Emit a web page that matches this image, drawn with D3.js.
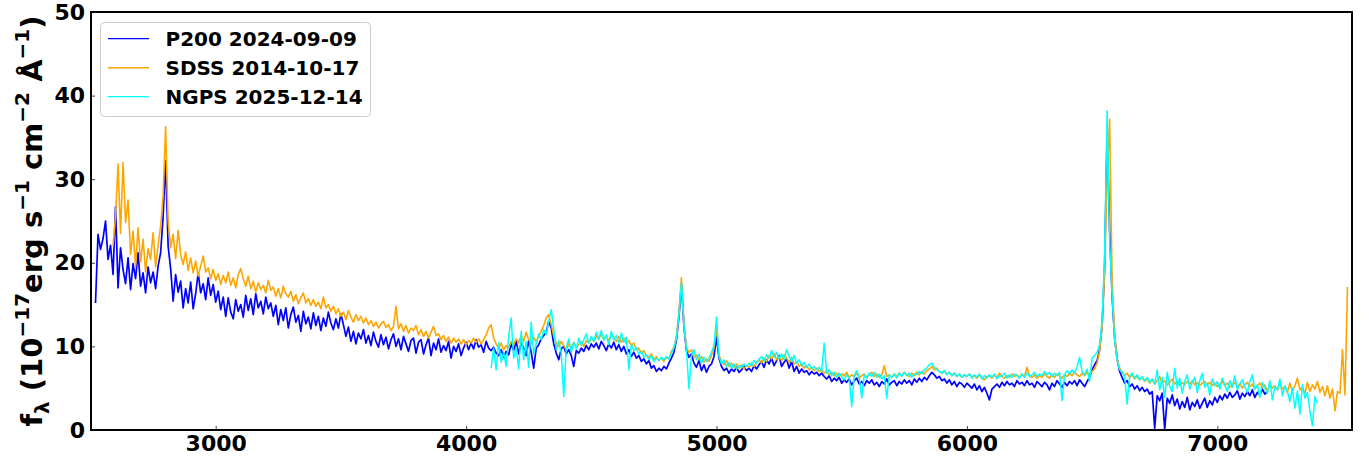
<!DOCTYPE html>
<html><head><meta charset="utf-8">
<script src="https://cdn.jsdelivr.net/npm/d3@7"></script>
<style>
body{margin:0;background:#fff;}
text{font-family:"DejaVu Sans",sans-serif;font-weight:bold;fill:#000;}
</style>
</head><body>
<svg id="chart" width="1369" height="462"></svg>
<script>
// ---- axis settings ----
const xDomain = [2502, 7538];
const yDomain = [0, 50];
const xTicks = [3000, 4000, 5000, 6000, 7000];
const yTicks = [0, 10, 20, 30, 40, 50];

// ---- series: wavelength grid (start, step in Å) + flux (1e-17 erg/s/cm2/Å) ----
const p200Name = "P200 2024-09-09";
const p200Start = 2520, p200Step = 10;
const p200Flux = [
15.2,23.4,21.6,22.9,25.0,20.4,22.1,18.6,26.7,17.0,
21.8,19.2,17.5,20.6,16.8,19.9,18.1,21.2,17.2,18.8,
16.4,19.5,17.6,18.9,16.9,19.6,21.2,25.5,32.2,22.0,
19.3,15.4,18.6,16.5,17.8,14.6,16.9,15.2,17.7,14.5,
16.3,18.8,16.4,17.5,15.6,18.2,16.1,17.4,15.3,16.6,
14.4,15.9,13.6,15.8,14.1,13.3,15.6,14.2,15.0,13.5,
16.1,14.3,15.7,13.8,16.3,14.6,15.4,13.9,15.9,14.5,
15.2,13.6,14.9,12.6,14.4,13.1,14.6,12.2,13.8,14.7,
12.9,13.7,11.8,14.2,12.7,13.5,12.1,14.0,12.5,13.6,
11.9,13.4,12.4,14.1,12.8,12.0,13.3,12.2,13.9,12.6,
11.2,12.3,10.6,11.8,10.3,11.6,10.9,12.0,10.4,11.3,
10.1,11.7,10.6,9.9,11.4,10.2,11.1,9.7,10.8,11.5,
10.0,10.9,9.6,11.2,10.3,9.4,10.7,11.0,9.2,10.5,
10.8,9.1,10.2,11.0,8.9,10.4,9.6,10.9,9.3,10.1,
9.5,10.6,8.6,10.0,9.4,10.3,8.9,9.8,10.5,9.6,
10.4,9.7,10.8,9.9,10.2,9.3,10.6,9.8,9.5,9.9,
9.2,8.9,9.6,8.7,9.4,9.0,10.3,9.5,10.6,9.1,
10.4,9.8,8.9,10.7,9.3,7.4,9.8,10.2,10.9,11.3,
11.7,13.0,12.2,10.3,9.2,8.4,9.7,10.0,9.1,9.6,
8.9,7.6,9.5,9.2,9.8,9.4,10.1,9.6,10.3,9.9,
10.4,9.7,10.6,10.1,9.5,10.3,9.8,10.5,9.6,10.2,
9.4,10.0,9.1,9.6,8.8,9.3,8.6,8.9,8.2,8.5,
7.9,8.3,7.4,7.7,7.0,7.4,7.1,7.6,7.3,8.0,
8.6,9.3,10.8,13.5,17.4,12.4,9.5,8.7,9.1,8.0,
7.5,8.3,7.1,7.8,6.9,7.6,7.9,8.8,11.1,8.6,
7.6,7.1,7.4,6.8,7.3,7.0,7.5,6.9,7.2,7.6,
7.1,7.4,7.0,7.7,7.3,7.8,8.2,7.5,8.4,7.9,
8.6,7.7,8.3,8.9,7.6,8.1,8.5,7.4,8.2,7.0,
7.6,6.8,7.3,6.9,7.1,6.6,7.0,6.7,6.9,6.5,
6.8,6.4,6.1,6.5,5.8,6.2,5.9,6.3,5.6,6.0,
5.7,6.1,5.4,5.9,6.2,5.5,5.8,5.3,5.9,5.6,
6.0,5.4,5.7,5.2,5.8,5.5,6.1,5.4,5.7,5.9,
5.3,5.8,5.5,6.0,5.6,5.9,5.4,6.1,5.7,6.2,
5.8,6.3,6.0,6.5,6.9,6.6,6.2,6.4,5.9,6.1,
5.6,6.0,5.4,5.8,5.2,5.7,5.5,5.1,5.6,5.3,
5.0,5.5,4.8,5.3,4.6,5.1,4.4,3.6,4.9,5.2,
5.5,5.1,5.7,5.3,5.8,5.4,5.6,5.2,5.9,5.5,
5.7,5.3,5.9,5.4,5.6,5.1,5.8,5.5,5.2,5.7,
5.4,4.8,5.6,5.2,5.9,5.5,5.1,5.7,5.3,5.8,
5.5,5.9,5.3,6.0,5.6,5.2,5.8,6.3,7.2,7.8,
8.3,9.6,12.5,19.5,35.5,24.0,16.0,11.0,8.5,7.0,
6.3,5.6,5.9,5.2,5.5,4.9,5.3,4.7,5.1,4.6,
4.9,4.3,4.6,0.2,4.1,3.5,4.4,0.0,3.8,3.2,
4.2,2.9,3.7,2.5,3.4,2.7,3.9,2.4,3.3,2.8,
3.6,2.6,3.2,3.8,2.7,3.5,3.0,3.9,3.3,4.1,
3.6,4.3,3.8,4.5,3.9,4.2,4.7,3.7,4.4,4.0,
4.6,4.1,4.8,3.9,4.5,4.2,4.9,4.3,4.6
];

const sdssName = "SDSS 2014-10-17";
const sdssStart = 2590, sdssStep = 10;
const sdssFlux = [
22.0,25.5,31.8,23.5,32.0,24.8,27.5,21.0,23.8,19.6,
24.2,20.1,22.8,18.9,21.7,20.4,23.6,19.5,22.1,24.4,
28.0,36.3,25.0,21.8,23.4,20.5,23.9,21.0,19.8,21.3,
19.1,20.6,18.8,20.2,18.4,19.6,20.8,18.9,19.4,18.1,
19.2,17.9,18.7,17.4,18.5,17.6,18.9,17.3,18.2,17.0,
18.6,19.3,18.1,17.2,18.4,16.9,17.8,16.5,17.6,16.8,
17.3,16.4,17.9,16.7,17.1,16.0,16.9,15.8,17.2,16.3,
15.9,16.6,15.4,16.2,15.1,15.8,16.4,15.2,15.7,14.9,
15.6,14.8,15.3,14.5,15.9,14.6,15.0,14.2,14.8,13.9,
14.5,13.6,14.1,13.2,14.3,13.5,12.9,13.8,13.1,13.6,
12.8,13.4,12.6,13.1,12.4,12.9,12.2,12.7,13.0,12.3,
12.6,11.9,12.4,14.8,12.1,12.7,11.8,12.5,11.6,12.2,
11.9,12.5,11.4,12.0,11.2,11.8,11.0,11.7,12.4,11.3,
11.5,10.8,11.3,10.6,11.1,10.4,11.0,10.5,10.9,10.3,
10.8,10.2,10.7,10.4,11.0,10.5,10.9,10.3,10.8,11.4,
12.2,12.6,11.0,10.3,9.8,10.4,9.6,10.1,9.8,10.6,
10.2,10.9,10.4,11.3,10.6,11.7,10.8,10.3,11.1,10.5,
11.2,11.8,12.5,13.4,13.8,12.6,11.2,10.4,10.0,10.6,
10.1,9.6,10.3,9.8,10.5,9.9,10.2,10.6,10.0,10.7,
10.4,11.0,10.6,11.3,10.8,11.5,10.9,11.2,10.7,11.4,
11.0,10.6,11.2,10.5,11.0,10.3,10.7,10.1,10.4,9.6,
9.8,9.2,9.5,8.9,8.7,9.1,8.4,8.8,8.3,8.6,
8.2,8.7,8.5,9.4,9.9,11.2,14.0,18.2,12.8,9.9,
9.3,9.6,8.7,9.0,8.4,8.8,8.1,8.5,8.2,8.9,
9.8,12.3,9.0,8.2,7.8,8.3,7.6,8.0,7.5,7.9,
7.4,7.8,7.3,7.7,7.5,8.0,7.6,8.1,8.4,8.0,
8.6,8.2,8.9,8.5,9.1,8.4,8.8,8.3,9.0,8.6,
8.1,8.7,7.9,8.2,7.6,7.9,7.4,7.7,7.2,7.5,
7.1,7.4,7.0,7.2,6.8,7.1,6.6,6.9,6.5,6.8,
6.4,6.7,6.5,6.9,6.3,6.6,6.4,6.8,6.2,6.5,
6.7,6.3,6.6,6.9,6.4,6.7,6.3,6.6,7.7,6.4,
6.6,6.3,6.7,6.4,6.8,6.5,6.9,6.6,6.4,6.8,
6.5,6.9,6.6,7.0,6.7,7.1,7.3,7.6,7.2,7.4,
7.0,6.8,7.1,6.7,6.9,6.5,6.8,6.4,6.7,6.3,
6.6,6.4,6.7,6.3,6.5,6.2,6.6,6.3,6.0,6.4,
6.5,6.2,6.6,6.3,6.8,6.4,6.2,6.5,6.3,6.7,
6.4,6.6,6.3,6.7,6.4,7.5,6.5,6.3,6.6,6.2,
6.5,6.3,6.7,6.4,6.2,6.6,6.3,6.7,6.5,6.2,
6.6,6.4,6.8,6.5,6.9,6.6,6.4,6.8,6.5,6.9,
6.7,7.0,7.3,8.0,9.4,12.4,19.0,30.0,37.2,18.0,
11.5,8.5,7.4,6.9,6.5,6.8,6.3,6.6,6.1,6.4,
6.0,6.3,5.8,6.1,5.6,6.0,5.5,5.9,6.4,5.6,
5.9,5.4,5.7,6.1,5.5,5.8,5.3,5.7,5.4,5.8,
5.5,5.9,5.4,5.7,5.3,5.6,5.8,5.4,5.7,5.3,
5.6,5.2,5.5,5.8,5.3,5.6,5.1,5.4,5.7,5.2,
5.5,5.0,5.4,5.7,5.2,5.5,4.9,5.3,5.6,5.1,
5.4,4.6,5.5,5.0,5.3,4.8,5.6,4.9,5.2,4.5,
5.6,4.7,5.3,6.2,4.8,5.1,4.4,5.7,4.6,5.4,
4.9,5.8,4.5,5.2,4.1,5.3,3.8,4.9,2.3,4.6,
4.4,9.6,4.2,17.1
];

const ngpsName = "NGPS 2025-12-14";
const ngpsStart = 4100, ngpsStep = 10;
const ngpsFlux = [
7.4,9.8,7.2,10.5,8.1,9.3,7.6,11.2,13.4,8.6,
9.9,7.3,11.8,8.4,10.6,7.5,12.9,9.1,10.3,11.5,
10.8,12.0,11.4,13.0,14.4,12.1,9.6,10.7,9.2,4.0,
9.8,10.9,9.3,10.5,9.7,11.0,10.1,10.8,11.5,10.4,
11.2,10.6,11.7,10.9,11.9,10.7,11.4,10.2,11.8,10.8,
11.3,10.4,11.6,10.5,11.1,7.2,10.3,9.5,9.9,9.1,
9.4,8.7,9.0,8.4,8.9,8.2,8.6,8.3,8.7,8.4,
8.8,8.5,9.2,9.8,11.0,13.8,17.7,12.6,9.6,4.9,
8.9,9.6,8.4,9.1,8.0,8.7,8.2,8.6,9.3,10.1,
13.5,8.8,7.9,8.4,7.6,8.1,7.4,7.9,7.3,7.7,
7.5,7.9,7.6,8.0,7.7,8.3,8.0,8.5,8.8,8.2,
9.0,8.6,9.5,8.7,9.3,8.5,9.1,8.4,9.6,8.8,
8.2,8.9,8.0,8.4,7.7,8.1,7.5,7.9,7.3,7.6,
7.2,7.5,7.0,10.4,6.8,7.2,6.5,6.9,6.3,6.8,
6.4,6.0,6.6,6.2,2.8,6.5,7.1,6.3,3.8,6.6,
6.2,6.8,6.4,6.9,6.3,6.7,6.1,6.5,3.8,6.6,
6.3,6.7,6.2,6.8,6.4,6.9,6.5,6.8,6.3,6.7,
6.6,7.0,6.7,7.2,7.4,7.8,8.0,7.5,7.2,7.0,
6.8,7.1,6.6,6.9,6.5,6.8,6.4,6.7,6.3,6.6,
6.4,6.7,6.2,6.6,6.3,6.7,6.1,6.5,6.2,6.6,
6.3,6.7,6.1,6.5,6.4,6.8,6.2,6.6,6.3,6.7,
6.5,6.2,6.7,6.3,6.8,6.4,6.6,6.9,6.4,6.7,
6.5,7.0,6.6,6.9,6.4,6.8,6.5,6.9,3.5,6.6,
7.1,6.7,7.2,6.8,7.6,8.7,7.0,6.6,7.3,5.8,
8.6,8.9,9.3,10.2,13.0,21.0,38.2,22.5,16.0,10.8,
8.3,7.2,6.9,6.5,3.1,6.4,6.8,6.2,6.6,6.0,
6.4,5.9,6.3,5.7,6.1,5.5,7.2,4.8,6.3,3.9,
6.9,5.2,4.6,7.4,5.0,6.2,4.4,5.8,6.6,4.9,
5.7,6.3,4.5,5.9,6.8,5.1,5.6,4.2,6.1,5.3,
5.8,4.9,6.2,5.4,4.6,5.9,5.1,6.5,4.8,5.5,
6.0,5.2,4.5,5.8,6.6,4.9,5.4,3.9,5.7,5.0,
4.4,5.9,3.6,5.2,4.8,6.1,4.1,5.3,4.6,3.4,
5.0,2.6,4.7,1.9,5.4,3.8,4.5,2.2,0.5,4.0,
3.2
];

const series = [
  {name: p200Name, color: "#0000ff", start: p200Start, step: p200Step, flux: p200Flux, lw: 1.7},
  {name: sdssName, color: "#ffa500", start: sdssStart, step: sdssStep, flux: sdssFlux, lw: 1.6},
  {name: ngpsName, color: "#00ffff", start: ngpsStart, step: ngpsStep, flux: ngpsFlux, lw: 1.5}
];

// ---- layout ----
const M = {l: 91, r: 1352, t: 12, b: 430};
const svg = d3.select("#chart");
const x = d3.scaleLinear().domain(xDomain).range([M.l, M.r]);
const y = d3.scaleLinear().domain(yDomain).range([M.b, M.t]);

svg.append("defs").append("clipPath").attr("id", "clip")
  .append("rect").attr("x", M.l).attr("y", M.t).attr("width", M.r - M.l).attr("height", M.b - M.t);

const line = d3.line().x(d => x(d[0])).y(d => y(d[1]));
const gLines = svg.append("g").attr("clip-path", "url(#clip)");
series.forEach(s => {
  const pts = s.flux.map((f, i) => [s.start + i * s.step, f]);
  gLines.append("path").datum(pts)
    .attr("d", line).attr("fill", "none")
    .attr("stroke", s.color).attr("stroke-width", s.lw)
    .attr("stroke-linejoin", "round");
});

// ---- axes ----
const xAxis = d3.axisBottom(x).tickValues(xTicks).tickFormat(d3.format("d"))
  .tickSizeInner(-4).tickSizeOuter(0).tickPadding(5);
const gx = svg.append("g").attr("transform", `translate(0,${M.b})`).call(xAxis);
const yAxis = d3.axisLeft(y).tickValues(yTicks).tickFormat(d3.format("d"))
  .tickSizeInner(-4).tickSizeOuter(0).tickPadding(6);
const gy = svg.append("g").attr("transform", `translate(${M.l},0)`).call(yAxis);
[gx, gy].forEach(g => {
  g.select(".domain").remove();
  g.selectAll(".tick line").attr("stroke", "#444").attr("stroke-width", 1);
  g.selectAll(".tick text").attr("font-size", 22).attr("font-family", "DejaVu Sans")
    .attr("font-weight", "bold").attr("fill", "#000");
});

// frame
svg.append("rect").attr("x", M.l).attr("y", M.t).attr("width", M.r - M.l).attr("height", M.b - M.t)
  .attr("fill", "none").attr("stroke", "#000").attr("stroke-width", 2);

// ---- y label ----
const yl = svg.append("text").attr("transform", `translate(42,${(M.t + M.b) / 2}) rotate(-90)`)
  .attr("text-anchor", "middle").attr("font-size", 29);
const parts = [
  ["f", 0], ["λ", -1], [" (10", 0], ["−17", 1], ["erg s", 0], ["−1", 1],
  [" cm", 0], ["−2", 1], [" Å", 0], ["−1", 1], [")", 0]
];
let cur = 0;
parts.forEach(([t, mode]) => {
  const target = mode === 1 ? -0.45 : mode === -1 ? 0.25 : 0;
  const fs = mode === 0 ? 29 : 20;
  const dyPx = (target - cur) * 29;
  cur = target;
  yl.append("tspan").attr("dy", dyPx).attr("font-size", fs).text(t);
});

// ---- legend ----
const lg = svg.append("g");
lg.append("rect").attr("x", 100.5).attr("y", 22.5).attr("width", 270).attr("height", 94)
  .attr("rx", 4).attr("fill", "#fff").attr("fill-opacity", 0.8).attr("stroke", "#cccccc").attr("stroke-width", 1);
series.forEach((s, i) => {
  const cy = 38.7 + i * 29;
  lg.append("line").attr("x1", 108).attr("x2", 149).attr("y1", cy).attr("y2", cy)
    .attr("stroke", s.color).attr("stroke-width", i === 1 ? 1.6 : 1.2);
  lg.append("text").attr("x", 165.5).attr("y", cy + 7).attr("font-size", 20).text(s.name);
});
</script>
</body></html>
